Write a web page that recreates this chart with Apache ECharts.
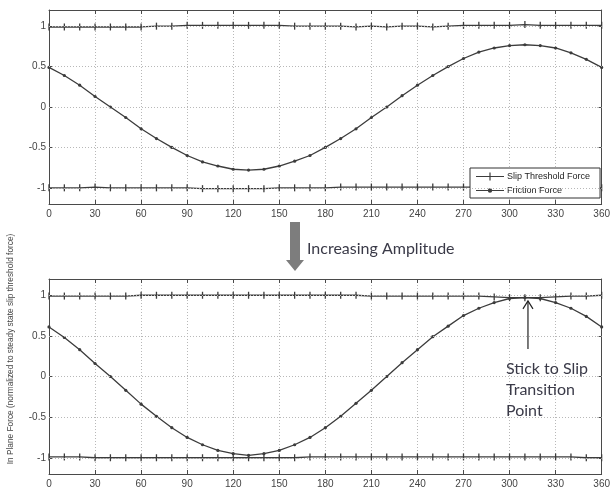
<!DOCTYPE html>
<html>
<head>
<meta charset="utf-8">
<script src="https://cdn.jsdelivr.net/npm/echarts@6/dist/echarts.min.js"></script>
<style>
  html, body { margin: 0; padding: 0; background: #fff; }
  #chart { width: 613px; height: 489px; }
</style>
</head>
<body>
<div id="chart"></div>
<script>
// Phase angle (degrees), sampled every 10 degrees
const angles = [0,10,20,30,40,50,60,70,80,90,100,110,120,130,140,150,160,170,180,190,200,210,220,230,240,250,260,270,280,290,300,310,320,330,340,350,360];
const xTicks = [0,30,60,90,120,150,180,210,240,270,300,330,360];
const yTicks = [-1,-0.5,0,0.5,1];

// Upper panel (lower amplitude)
const slipUpperA = [0.99,0.99,0.99,0.99,0.99,0.99,0.99,1.0,1.0,1.01,1.01,1.01,1.01,1.01,1.01,1.01,1.0,1.0,1.0,1.0,0.99,1.0,0.99,1.0,1.0,0.99,1.0,1.01,1.01,1.01,1.01,1.02,1.01,1.01,1.01,1.01,1.01];
const slipLowerA = [-1.0,-1.0,-1.0,-0.99,-1.0,-1.0,-1.0,-1.0,-1.0,-1.0,-1.01,-1.01,-1.01,-1.01,-1.01,-1.0,-1.0,-1.0,-1.0,-0.99,-0.99,-0.99,-0.99,-0.99,-0.99,-0.99,-0.99,-0.99,-0.99,-0.99,-0.99,-0.99,-0.99,-1.0,-1.0,-1.0,-1.0];
const frictionA = [0.49,0.39,0.27,0.13,0.0,-0.13,-0.27,-0.39,-0.50,-0.60,-0.68,-0.73,-0.77,-0.78,-0.77,-0.73,-0.67,-0.60,-0.50,-0.39,-0.27,-0.13,0.0,0.14,0.27,0.39,0.50,0.60,0.68,0.73,0.76,0.77,0.76,0.73,0.67,0.59,0.49];

// Lower panel (increased amplitude)
const slipUpperB = [0.99,0.99,0.99,0.99,0.99,0.99,1.0,1.0,1.0,1.0,1.0,1.0,1.0,1.0,1.0,1.0,1.0,1.0,1.0,1.0,1.0,0.99,0.99,0.99,0.99,0.99,0.99,0.99,0.99,0.98,0.97,0.97,0.97,0.98,0.99,0.99,1.0];
const slipLowerB = [-0.99,-0.99,-0.99,-1.0,-1.0,-1.0,-1.0,-1.0,-1.0,-1.0,-1.0,-1.0,-1.0,-1.0,-1.0,-1.0,-1.0,-0.99,-0.99,-0.99,-0.99,-0.99,-0.99,-0.99,-0.99,-0.99,-0.99,-0.99,-0.99,-0.99,-0.99,-0.99,-0.99,-0.99,-0.99,-1.0,-1.0];
const frictionB = [0.61,0.48,0.33,0.16,0.0,-0.17,-0.34,-0.49,-0.63,-0.75,-0.84,-0.91,-0.95,-0.97,-0.95,-0.91,-0.84,-0.75,-0.63,-0.49,-0.33,-0.17,0.0,0.17,0.33,0.49,0.62,0.75,0.84,0.91,0.96,0.97,0.96,0.91,0.84,0.74,0.61];

const SLIP = 'Slip Threshold Force';
const FRICTION = 'Friction Force';

const LINE = '#3c3c3c';
const FRAME = '#4a4a4a';
const GRIDC = '#b8b8b8';
const LABEL = { color: '#444', fontSize: 10, fontFamily: 'Liberation Sans, Arial, sans-serif' };

function pairs(ys) { return angles.map((a, i) => [a, ys[i]]); }

function xAxes(gridIndex) {
  const base = { gridIndex, type: 'value', min: 0, max: 360, interval: 30 };
  return [
    Object.assign({}, base, {
      position: 'bottom',
      axisLine: { show: true, onZero: false, lineStyle: { color: FRAME, width: 1 } },
      axisTick: { show: true, inside: true, length: 4, lineStyle: { color: FRAME } },
      axisLabel: Object.assign({ margin: 5, formatter: v => xTicks.includes(v) ? String(v) : '' }, LABEL),
      splitLine: { show: true, lineStyle: { color: GRIDC, type: [1, 2], width: 1 } }
    }),
    Object.assign({}, base, {
      position: 'top',
      axisLine: { show: true, onZero: false, lineStyle: { color: FRAME, width: 1 } },
      axisTick: { show: true, inside: true, length: 4, lineStyle: { color: FRAME } },
      axisLabel: { show: false },
      splitLine: { show: false }
    })
  ];
}

function yAxes(gridIndex) {
  const base = { gridIndex, type: 'value', min: -1.2, max: 1.2 };
  return [
    Object.assign({}, base, {
      position: 'left',
      axisLine: { show: true, onZero: false, lineStyle: { color: FRAME, width: 1 } },
      axisTick: { show: true, inside: true, length: 4, customValues: yTicks, lineStyle: { color: FRAME } },
      axisLabel: Object.assign({ margin: 3, customValues: yTicks, formatter: v => String(v) }, LABEL),
      splitLine: { show: false }
    }),
    Object.assign({}, base, {
      position: 'right',
      axisLine: { show: true, onZero: false, lineStyle: { color: FRAME, width: 1 } },
      axisTick: { show: true, inside: true, length: 4, customValues: yTicks, lineStyle: { color: FRAME } },
      axisLabel: { show: false },
      splitLine: { show: false }
    })
  ];
}

// Dotted horizontal reference lines at the labelled force levels
function hGrid() {
  return {
    silent: true, symbol: 'none', label: { show: false },
    lineStyle: { color: GRIDC, type: [1, 2], width: 1 },
    data: yTicks.map(v => ({ yAxis: v }))
  };
}

function slipSeries(name, ys, xi, yi, withGrid) {
  const s = {
    name, type: 'line', xAxisIndex: xi, yAxisIndex: yi, data: pairs(ys),
    symbol: 'rect', symbolSize: [1.3, 7],
    lineStyle: { color: LINE, width: 1.3 }, itemStyle: { color: LINE },
    animation: false, z: 3
  };
  if (withGrid) s.markLine = hGrid();
  return s;
}
function frictionSeries(ys, xi, yi) {
  return {
    name: FRICTION, type: 'line', xAxisIndex: xi, yAxisIndex: yi, data: pairs(ys),
    symbol: 'circle', symbolSize: 3.2,
    lineStyle: { color: LINE, width: 1.3 }, itemStyle: { color: LINE },
    animation: false, z: 4
  };
}

// Legend keys: a short line with the series marker in its middle
const ICON_SLIP = 'path://M0,4.4 L28,4.4 L28,5.6 L0,5.6 Z M13.4,1 L14.6,1 L14.6,9 L13.4,9 Z';
const ICON_FRICTION = 'path://M0,4.4 L28,4.4 L28,5.6 L0,5.6 Z M14,2.8 A2.2,2.2 0 1 1 14,7.2 A2.2,2.2 0 1 1 14,2.8 Z';

const chart = echarts.init(document.getElementById('chart'), null, { renderer: 'canvas' });

const option = {
  backgroundColor: '#fff',
  animation: false,
  grid: [
    { left: 49, top: 10, width: 558, height: 194 },
    { left: 49, top: 279, width: 558, height: 195 }
  ],
  xAxis: [...xAxes(0), ...xAxes(1)],
  yAxis: [...yAxes(0), ...yAxes(1)],
  legend: {
    left: 470, top: 168,
    orient: 'vertical',
    data: [{ name: SLIP, icon: ICON_SLIP }, { name: FRICTION, icon: ICON_FRICTION }],
    backgroundColor: '#fff',
    borderColor: '#333', borderWidth: 1,
    padding: [4, 10, 3, 6],
    itemGap: 5, itemWidth: 28, itemHeight: 10,
    itemStyle: { color: LINE },
    textStyle: { color: '#222', fontSize: 9, fontFamily: 'Liberation Sans, Arial, sans-serif', padding: [0, 0, 0, -2] },
    selectedMode: false
  },
  series: [
    slipSeries(SLIP, slipUpperA, 0, 0, true),
    slipSeries(SLIP, slipLowerA, 0, 0, false),
    frictionSeries(frictionA, 0, 0),
    slipSeries(SLIP, slipUpperB, 2, 2, true),
    slipSeries(SLIP, slipLowerB, 2, 2, false),
    frictionSeries(frictionB, 2, 2)
  ]
};
chart.setOption(option);

// Annotation pointing at the stick-to-slip transition on the lower panel
const tip = chart.convertToPixel({ xAxisIndex: 2, yAxisIndex: 2 }, [312, 0.93]);
const tail = chart.convertToPixel({ xAxisIndex: 2, yAxisIndex: 2 }, [312, 0.34]);

chart.setOption({
  graphic: [
    {
      type: 'text', x: 11, y: 349, rotation: Math.PI / 2,
      style: {
        text: 'In Plane Force (normalized to steady state slip threshold force)',
        font: '8.3px "Liberation Sans", Arial, sans-serif', fill: '#444',
        align: 'center', verticalAlign: 'middle'
      }
    },
    {
      type: 'polygon',
      shape: { points: [[290, 222], [300, 222], [300, 260], [304, 260], [295, 271], [286, 260], [290, 260]] },
      style: { fill: '#7d7d7d' }
    },
    {
      type: 'text', x: 307, y: 249,
      style: {
        text: 'Increasing Amplitude',
        font: '16px Lato, "Open Sans", sans-serif', fill: '#3a3a48',
        align: 'left', verticalAlign: 'middle'
      }
    },
    {
      type: 'line',
      shape: { x1: tail[0], y1: tail[1], x2: tip[0], y2: tip[1] },
      style: { stroke: '#222', lineWidth: 1.2 }
    },
    {
      type: 'polyline',
      shape: { points: [[tip[0] - 5, tip[1] + 8], [tip[0], tip[1]], [tip[0] + 5, tip[1] + 8]] },
      style: { stroke: '#222', lineWidth: 1.2, fill: null }
    },
    {
      type: 'text', x: 506, y: 358,
      style: {
        text: 'Stick to Slip\nTransition\nPoint',
        font: '16px Lato, "Open Sans", sans-serif', fill: '#3a3a48',
        lineHeight: 21, align: 'left', verticalAlign: 'top'
      }
    }
  ]
});
</script>
</body>
</html>
